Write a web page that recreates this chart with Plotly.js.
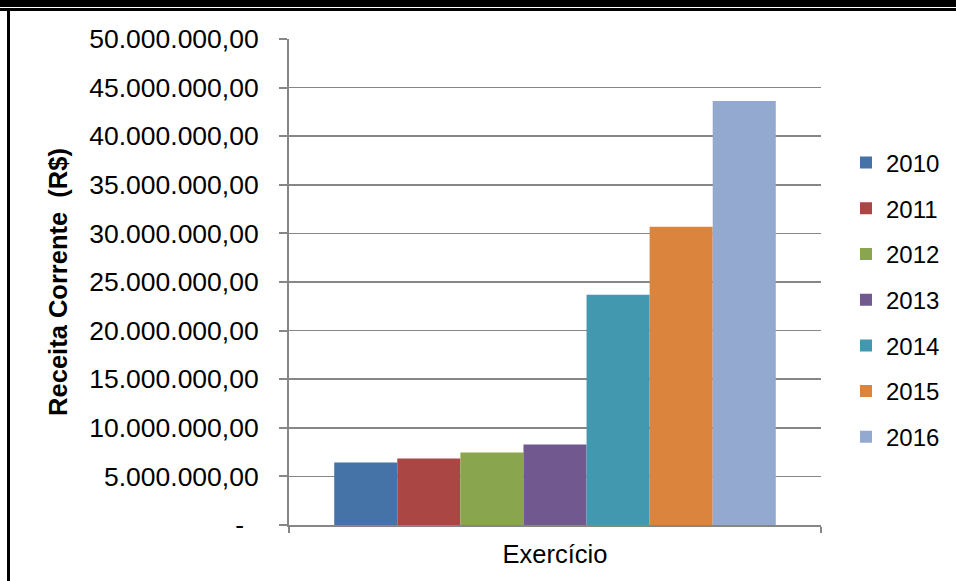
<!DOCTYPE html>
<html>
<head>
<meta charset="utf-8">
<script src="https://cdn.plot.ly/plotly-3.0.1.min.js"></script>
<style>
  html, body { margin: 0; padding: 0; background: #fff; }
  #wrap { position: relative; width: 956px; height: 581px; overflow: hidden; }
  #chart { position: absolute; left: 0; top: 0; width: 956px; height: 581px; }
  .deco { position: absolute; background: #000; pointer-events: none; }
</style>
</head>
<body>
<div id="wrap">
  <div id="chart"></div>
  <div class="deco" style="left:0;top:0;width:956px;height:7px;"></div>
  <div class="deco" style="left:0;top:8px;width:956px;height:3px;"></div>
  <div class="deco" style="left:7px;top:10px;width:3px;height:571px;"></div>
</div>
<script>
// Data
const category = ["Exercício"];
const years = ["2010", "2011", "2012", "2013", "2014", "2015", "2016"];
const revenues = [6440000, 6850000, 7470000, 8290000, 23700000, 30680000, 43630000];
const colors = ["#4572A7", "#AA4643", "#89A54E", "#71588F", "#4198AF", "#DB843D", "#93A9CF"];
const yTickVals = [0, 5000000, 10000000, 15000000, 20000000, 25000000, 30000000, 35000000, 40000000, 45000000, 50000000];
const yTickText = ["-\u00a0\u00a0", "5.000.000,00", "10.000.000,00", "15.000.000,00", "20.000.000,00", "25.000.000,00",
                   "30.000.000,00", "35.000.000,00", "40.000.000,00", "45.000.000,00", "50.000.000,00"];

const FONT = "Liberation Sans, Arial, sans-serif";

const traces = years.map((yr, i) => ({
  type: "bar",
  name: yr,
  x: category,
  y: [revenues[i]],
  legendgroup: yr,
  marker: { color: colors[i], line: { width: 0 } },
  hoverinfo: "name+y"
}));

const layout = {
  width: 956,
  height: 581,
  margin: { l: 289, r: 134, t: 39, b: 56, pad: 0 },
  paper_bgcolor: "#ffffff",
  plot_bgcolor: "#ffffff",
  font: { family: FONT, size: 24, color: "#000000" },
  barmode: "group",
  bargap: 0.17,
  bargroupgap: 0,
  showlegend: true,
  legend: {
    x: 1.045, xanchor: "left",
    y: 0.463, yanchor: "middle",
    font: { family: FONT, size: 24, color: "#000000" },
    tracegroupgap: 11.5,
    bgcolor: "rgba(0,0,0,0)",
    itemclick: false
  },
  xaxis: {
    type: "category",
    range: [-0.5, 0.5],
    showline: true,
    linecolor: "#868686",
    linewidth: 2,
    ticks: "outside",
    tickson: "boundaries",
    ticklen: 6,
    tickcolor: "#868686",
    tickwidth: 2,
    showgrid: false,
    zeroline: false,
    tickfont: { family: FONT, size: 25.5, color: "#000000" },
    ticklabelstandoff: 5,
    fixedrange: true
  },
  yaxis: {
    range: [0, 50000000],
    tickmode: "array",
    tickvals: yTickVals,
    ticktext: yTickText,
    showline: true,
    linecolor: "#868686",
    linewidth: 2,
    ticks: "outside",
    ticklen: 8,
    tickcolor: "#868686",
    tickwidth: 2,
    showgrid: true,
    gridcolor: "#868686",
    gridwidth: 1.5,
    zeroline: false,
    tickfont: { family: FONT, size: 26.5, color: "#000000" },
    ticklabelstandoff: 15,
    title: {
      text: "<b>Receita Corrente  (R$)</b>",
      font: { family: FONT, size: 25.5, color: "#000000" },
      standoff: 14
    },
    fixedrange: true
  }
};

Plotly.newPlot("chart", traces, layout, { displayModeBar: false, staticPlot: true });
</script>
</body>
</html>
